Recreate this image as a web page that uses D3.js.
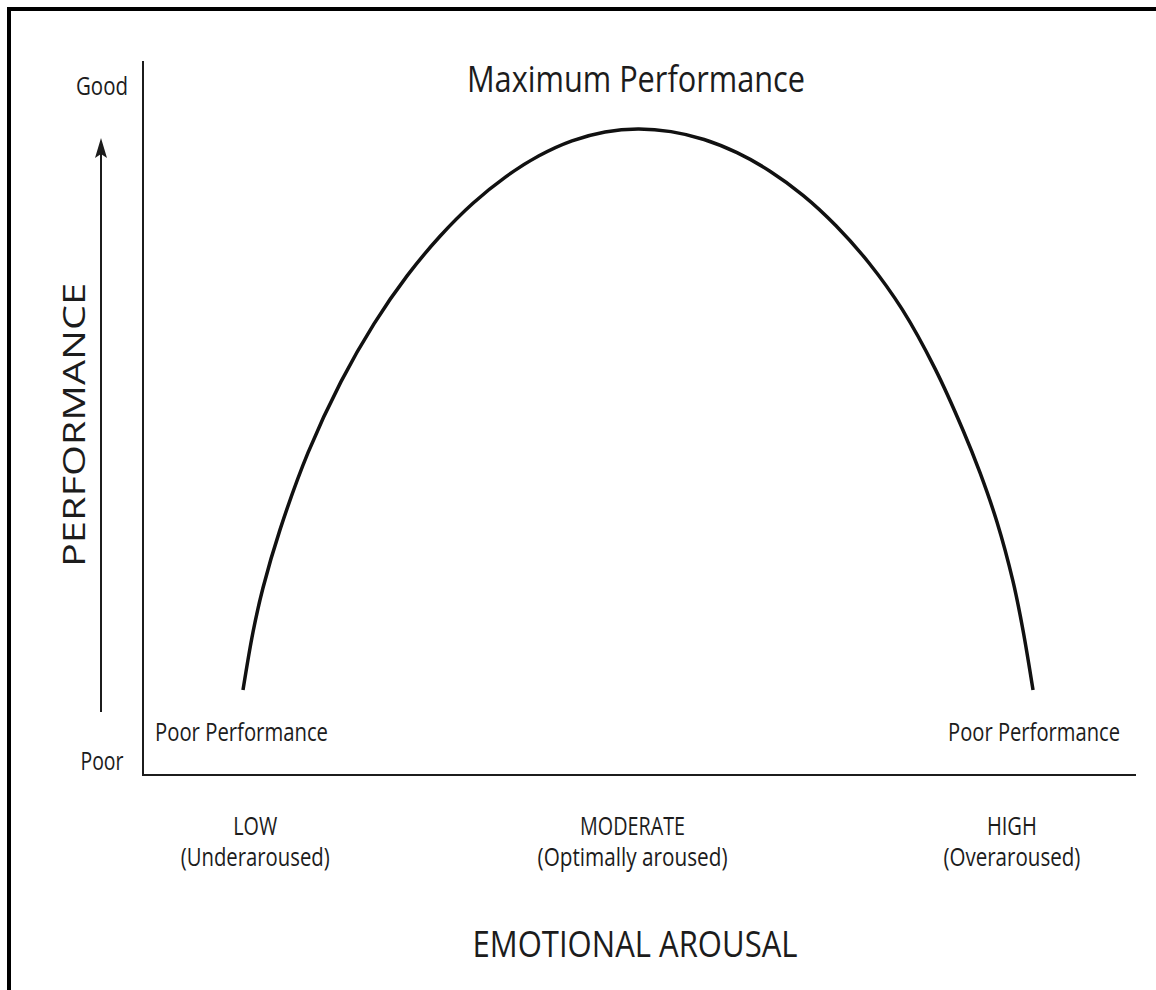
<!DOCTYPE html>
<html>
<head>
<meta charset="utf-8">
<script src="https://cdn.jsdelivr.net/npm/d3@7"></script>
<style>
  body { margin: 0; background: #fff; }
  svg { display: block; }
</style>
</head>
<body>
<svg id="chart" width="1156" height="990"></svg>
<script>
// Yerkes-Dodson style curve: performance vs emotional arousal (0-100 units)
const arousal = [10.07, 11.08, 12.08, 13.80, 16.62, 19.94, 23.26, 26.59, 29.91, 33.23, 36.56, 39.88, 43.20,
                 46.53, 49.85, 53.17, 56.50, 59.82, 63.14, 66.47, 69.79, 73.11, 76.44, 79.76, 82.58,
                 84.29, 86.00, 87.61, 88.62, 89.63];
const performance = [11.90, 20.03, 26.19, 34.37, 45.15, 55.10, 63.19, 69.90, 75.45, 80.07, 83.81, 86.72, 88.81,
                     90.06, 90.48, 90.11, 89.01, 87.16, 84.57, 81.19, 76.93, 71.71, 65.24, 56.92, 48.29,
                     42.34, 35.43, 27.14, 20.28, 11.90];

const levelNames = ['LOW', 'MODERATE', 'HIGH'];
const levelNotes = ['(Underaroused)', '(Optimally aroused)', '(Overaroused)'];
const levelPos = [11.3, 49.3, 87.5];

const yEnds = ['Poor', 'Good'];

const font = '"Open Sans", "Noto Sans", sans-serif';
const ink = '#1c1c1c';

const svg = d3.select('#chart');

// outer frame (cut off at right and bottom like the source image)
svg.append('rect')
    .attr('x', 9).attr('y', 9)
    .attr('width', 1300).attr('height', 1200)
    .attr('fill', 'none')
    .attr('stroke', '#000')
    .attr('stroke-width', 4);

const x = d3.scaleLinear().domain([0, 100]).range([143, 1136]);
const y = d3.scaleLinear().domain([0, 100]).range([775, 61]);

// axes as plain lines (no ticks)
svg.append('line')
    .attr('x1', x(0)).attr('x2', x(0))
    .attr('y1', y(100)).attr('y2', y(0))
    .attr('stroke', ink).attr('stroke-width', 2);

svg.append('line')
    .attr('x1', x(0) - 1).attr('x2', x(100))
    .attr('y1', y(0)).attr('y2', y(0))
    .attr('stroke', ink).attr('stroke-width', 2);

// helper for text squeezed to the measured width (source font is narrow)
function label(txt, px, py, size, len, anchor = 'middle') {
    return svg.append('text')
        .attr('x', px).attr('y', py)
        .attr('text-anchor', anchor)
        .attr('font-family', font)
        .attr('font-size', size)
        .attr('fill', ink)
        .attr('textLength', len)
        .attr('lengthAdjust', 'spacingAndGlyphs')
        .text(txt);
}

// arrow on the left
const arrowX = 101;
svg.append('line')
    .attr('x1', arrowX).attr('x2', arrowX)
    .attr('y1', 712).attr('y2', 152)
    .attr('stroke', ink).attr('stroke-width', 2);

svg.append('path')
    .attr('d', `M${arrowX},138 L${arrowX + 6},158 L${arrowX},154 L${arrowX - 6},158 Z`)
    .attr('fill', ink);

label(yEnds[1], arrowX + 1, 95, 25, 52);
label(yEnds[0], arrowX + 1, 770, 25, 43);

// vertical axis title
svg.append('text')
    .attr('transform', `translate(85, 425) rotate(-90)`)
    .attr('text-anchor', 'middle')
    .attr('font-family', font)
    .attr('font-size', 31)
    .attr('fill', ink)
    .attr('textLength', 284)
    .attr('lengthAdjust', 'spacingAndGlyphs')
    .text('PERFORMANCE');

// the curve
const pts = arousal.map((a, i) => [a, performance[i]]);
const line = d3.line()
    .x(d => x(d[0]))
    .y(d => y(d[1]))
    .curve(d3.curveCatmullRom.alpha(0.5));

svg.append('path')
    .datum(pts)
    .attr('d', line)
    .attr('fill', 'none')
    .attr('stroke', '#111')
    .attr('stroke-width', 3.5);

// annotations
label('Maximum Performance', 636, 92, 37, 338);
label('Poor Performance', 155, 741, 25, 173, 'start');
label('Poor Performance', 1120, 741, 25, 172, 'end');

// arousal levels under the axis
const nameLen = [44, 105, 50];
const noteLen = [149, 190, 137];
levelNames.forEach((n, i) => {
    label(n, x(levelPos[i]), 835, 25, nameLen[i]);
    label(levelNotes[i], x(levelPos[i]), 866, 25, noteLen[i]);
});

label('EMOTIONAL AROUSAL', 635, 957, 37, 325);
</script>
</body>
</html>
